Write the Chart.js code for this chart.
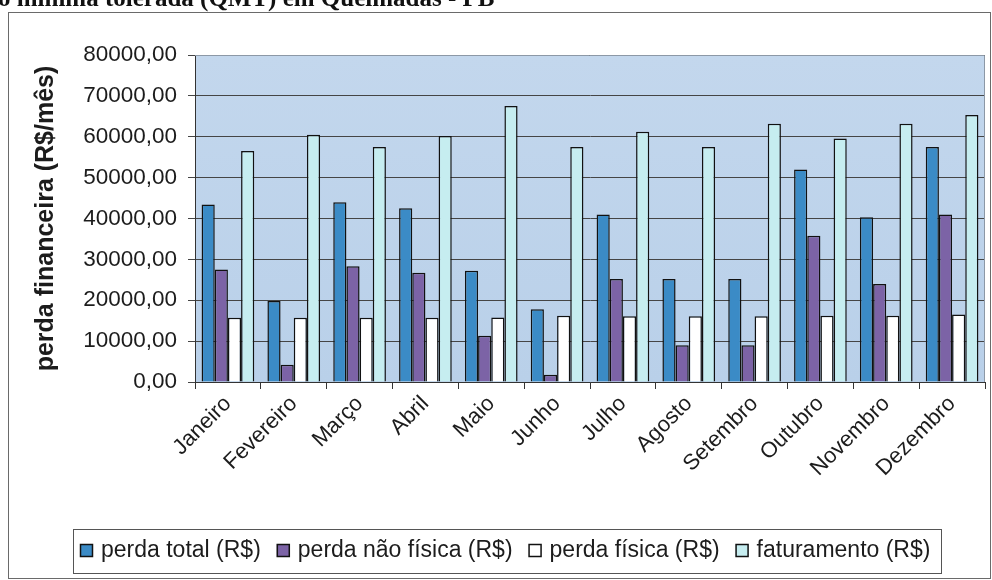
<!DOCTYPE html>
<html>
<head>
<meta charset="utf-8">
<script src="https://cdn.jsdelivr.net/npm/chart.js@4/dist/chart.umd.min.js"></script>
<style>
  html, body { margin: 0; padding: 0; background: #fff; overflow: hidden; }
  #wrap { position: relative; width: 992px; height: 580px; }
</style>
</head>
<body>
<div id="wrap"><canvas id="c" width="992" height="580"></canvas></div>
<script>
// Monthly financial losses and revenue (R$/month)
const meses = ['Janeiro', 'Fevereiro', 'Março', 'Abril', 'Maio', 'Junho',
               'Julho', 'Agosto', 'Setembro', 'Outubro', 'Novembro', 'Dezembro'];
const perdaTotal     = [43400, 19800, 44000, 42500, 27200, 17800, 41000, 25200, 25200, 52000, 40300, 57500];
const perdaNaoFisica = [27500,  4200, 28300, 26700, 11300,  1800, 25200,  9000,  9000, 35800, 24000, 41000];
const perdaFisica    = [15700, 15700, 15700, 15700, 15800, 16200, 16100, 16100, 16100, 16200, 16200, 16500];
const faturamento    = [56500, 60500, 57500, 60200, 67500, 57500, 61200, 57500, 63200, 59600, 63200, 65300];
const yTicks = [0, 10000, 20000, 30000, 40000, 50000, 60000, 70000, 80000];

const seriesNames  = ['perda total (R$)', 'perda não física (R$)', 'perda física (R$)', 'faturamento (R$)'];
const seriesColors = ['#3b8bc6', '#7c63a6', '#ffffff', '#c6edf0'];
const headingText  = 'o mínima tolerada (QMT) em Queimadas - PB';
const axisTitle    = 'perda financeira (R$/mês)';

const FONT = '"Liberation Sans", Arial, sans-serif';
const TEXT = '#1c1c1c';

const fmt = v => v.toFixed(2).replace('.', ',');

// Page frame, heading and plot background
const backdrop = {
  id: 'backdrop',
  beforeDraw(chart) {
    const { ctx, chartArea: a } = chart;
    ctx.save();
    ctx.fillStyle = '#ffffff';
    ctx.fillRect(0, 0, chart.width, chart.height);
    // heading line (runs off the top edge)
    ctx.font = 'bold 25px "Liberation Serif", "Times New Roman", serif';
    ctx.fillStyle = '#111';
    ctx.textBaseline = 'alphabetic';
    ctx.fillText(headingText, -2, 6);
    // outer frame
    ctx.strokeStyle = '#6a6a6a';
    ctx.lineWidth = 1;
    ctx.strokeRect(8.5, 12.5, 982, 566);
    // plot fill
    const g = ctx.createLinearGradient(0, a.top, 0, a.bottom);
    g.addColorStop(0, '#c3d7ed');
    g.addColorStop(1, '#b9d0e9');
    ctx.fillStyle = g;
    ctx.fillRect(a.left, a.top, a.right - a.left, a.bottom - a.top);
    ctx.restore();
  },
  afterDraw(chart) {
    const { ctx, chartArea: a } = chart;
    ctx.save();
    // plot border
    ctx.strokeStyle = '#8c98a6';
    ctx.lineWidth = 1;
    ctx.beginPath();
    ctx.moveTo(a.left, a.top + 0.5);
    ctx.lineTo(a.right - 0.5, a.top + 0.5);
    ctx.lineTo(a.right - 0.5, a.bottom);
    ctx.stroke();

    // legend box with swatches
    ctx.font = '23px ' + FONT;
    ctx.textBaseline = 'middle';
    ctx.strokeStyle = '#555';
    ctx.lineWidth = 1;
    ctx.strokeRect(73.5, 529.5, 868, 44);
    let x = 80;
    const cy = 551;
    seriesNames.forEach((name, i) => {
      ctx.fillStyle = seriesColors[i];
      ctx.fillRect(x, cy - 7, 13, 13);
      ctx.strokeStyle = '#111';
      ctx.lineWidth = 1.5;
      ctx.strokeRect(x + 0.5, cy - 6.5, 12, 12);
      ctx.fillStyle = TEXT;
      ctx.fillText(name, x + 21, cy);
      x += 21 + ctx.measureText(name).width + 16;
    });
    ctx.restore();
  }
};

const datasets = [perdaTotal, perdaNaoFisica, perdaFisica, faturamento].map((d, i) => ({
  label: seriesNames[i],
  data: d,
  backgroundColor: seriesColors[i],
  borderColor: '#111111',
  borderWidth: 1.5,
  categoryPercentage: 0.8,
  barPercentage: 1
}));

new Chart(document.getElementById('c'), {
  type: 'bar',
  data: { labels: meses, datasets },
  options: {
    responsive: false,
    animation: false,
    devicePixelRatio: 1,
    layout: { padding: { left: 0, top: 55, right: 7, bottom: 0 } },
    plugins: { legend: { display: false }, tooltip: { enabled: false } },
    scales: {
      x: {
        grid: { drawOnChartArea: false, drawTicks: true, tickLength: 7, color: '#333', offset: true },
        border: { color: '#333', width: 1 },
        ticks: {
          autoSkip: false, minRotation: 45, maxRotation: 45, padding: 2,
          color: TEXT, font: { family: FONT, size: 22 }
        },
        afterFit: s => { s.height = 198; }
      },
      y: {
        min: 0, max: 80000,
        afterBuildTicks: s => { s.ticks = yTicks.map(v => ({ value: v })); },
        ticks: {
          padding: 11, color: TEXT, font: { family: FONT, size: 22.5 },
          callback: v => fmt(v)
        },
        grid: { color: '#454545', lineWidth: 1, tickLength: 7 },
        border: { color: '#333', width: 1 },
        title: {
          display: true, text: axisTitle, color: TEXT,
          font: { family: FONT, size: 25, weight: 'bold' },
          padding: { top: 31, bottom: 0 }
        },
        afterFit: s => { s.width = 195; }
      }
    }
  },
  plugins: [backdrop]
});
</script>
</body>
</html>
